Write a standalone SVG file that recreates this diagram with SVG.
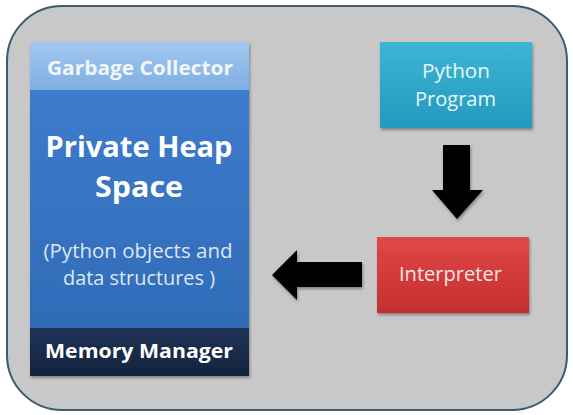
<svg xmlns="http://www.w3.org/2000/svg" width="573" height="415" viewBox="0 0 573 415">
<defs>
<style>
.t{font-family:"Open Sans","Liberation Sans",sans-serif;text-anchor:middle;}
.w{fill:#ffffff;}
.arrow{fill:#050505;}
</style>
<filter id="sh" x="-10%" y="-10%" width="120%" height="125%">
<feDropShadow dx="1" dy="2" stdDeviation="1.5" flood-color="#000" flood-opacity="0.35"/>
</filter>
<linearGradient id="gBlue" x1="0" y1="0" x2="0" y2="1">
<stop offset="0" stop-color="#3f7fd0"/><stop offset="1" stop-color="#2f68b4"/>
</linearGradient>
<linearGradient id="gLight" x1="0" y1="0" x2="0" y2="1">
<stop offset="0" stop-color="#a4c8f0"/><stop offset="1" stop-color="#7eaee4"/>
</linearGradient>
<linearGradient id="gNavy" x1="0" y1="0" x2="0" y2="1">
<stop offset="0" stop-color="#1f3356"/><stop offset="1" stop-color="#14223c"/>
</linearGradient>
<linearGradient id="gTeal" x1="0" y1="0" x2="0" y2="1">
<stop offset="0" stop-color="#3cb6d6"/><stop offset="1" stop-color="#2499be"/>
</linearGradient>
<linearGradient id="gRed" x1="0" y1="0" x2="0" y2="1">
<stop offset="0" stop-color="#e04848"/><stop offset="1" stop-color="#c42e2e"/>
</linearGradient>
</defs>
<rect width="573" height="415" fill="#ffffff"/>
<rect id="frame" x="7" y="6" width="560" height="404" rx="55" ry="55" fill="#c8c8c8" stroke="#3e5b6b" stroke-width="2"/>
<g id="heap">
<rect x="30" y="42" width="219" height="334" fill="url(#gBlue)" filter="url(#sh)"/>
<text class="t w" x="139" y="157" font-size="29" font-weight="bold" textLength="187" lengthAdjust="spacingAndGlyphs">Private Heap</text>
<text class="t w" x="139" y="197" font-size="29" font-weight="bold" textLength="88" lengthAdjust="spacingAndGlyphs">Space</text>
<text class="t" x="138" y="258" font-size="20" fill="#dde8f6" textLength="189" lengthAdjust="spacingAndGlyphs">(Python objects and</text>
<text class="t" x="139" y="285" font-size="20" fill="#dde8f6" textLength="152" lengthAdjust="spacingAndGlyphs">data structures )</text>
</g>
<g id="gc">
<rect x="30" y="42" width="219" height="48" fill="url(#gLight)"/>
<text class="t" x="140" y="75" font-size="19.5" font-weight="bold" fill="#f2f6fb" textLength="186" lengthAdjust="spacingAndGlyphs">Garbage Collector</text>
</g>
<g id="mm">
<rect x="30" y="328" width="219" height="48" fill="url(#gNavy)"/>
<text class="t w" x="139" y="358" font-size="19.5" font-weight="bold" textLength="188" lengthAdjust="spacingAndGlyphs">Memory Manager</text>
</g>
<g id="program">
<rect x="380" y="42" width="152" height="86" fill="url(#gTeal)" filter="url(#sh)"/>
<text class="t" x="456" y="78" font-size="20.5" fill="#e8f6fb" textLength="68" lengthAdjust="spacingAndGlyphs">Python</text>
<text class="t" x="455.5" y="106" font-size="20.5" fill="#e8f6fb" textLength="81" lengthAdjust="spacingAndGlyphs">Program</text>
</g>
<g id="interpreter">
<rect x="377" y="237" width="152" height="76" fill="url(#gRed)" filter="url(#sh)"/>
<text class="t" x="450.5" y="281" font-size="20.5" fill="#fbe6e6" textLength="103" lengthAdjust="spacingAndGlyphs">Interpreter</text>
</g>
<g id="connectors" filter="url(#sh)">
<polygon class="arrow" points="443,145 470,145 470,190 483,190 457,219 432,190 443,190"/>
<polygon class="arrow" points="362,262 362,287 297,287 297,300 272,275 297,250 297,262"/>
</g>
</svg>
